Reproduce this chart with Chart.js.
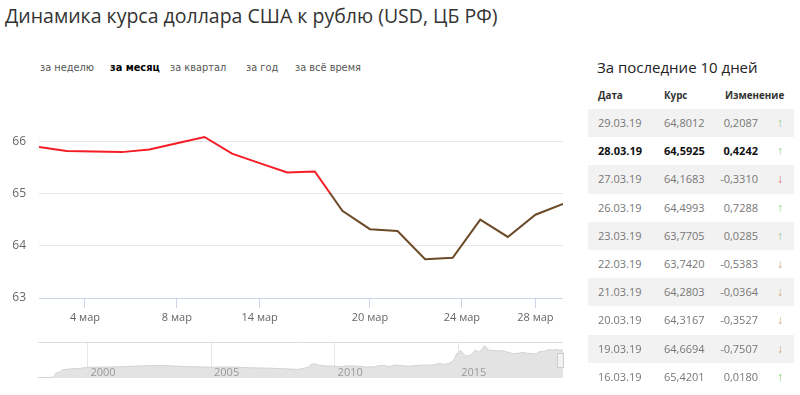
<!DOCTYPE html>
<html lang="ru">
<head>
<meta charset="utf-8">
<script src="https://cdn.jsdelivr.net/npm/chart.js@4.4.1/dist/chart.umd.min.js"></script>
<style>
  html, body { margin: 0; padding: 0; background: #fff; }
  body { width: 800px; height: 395px; position: relative; overflow: hidden; font-family: 'Open Sans', sans-serif; }
  .title { position: absolute; left: 5px; top: 2px; font-size: 19.5px; color: #333; white-space: nowrap; }
  .tabs span { position: absolute; top: 61px; font-family: 'DejaVu Sans', sans-serif; font-size: 9.8px; line-height: 14px; color: #555; white-space: nowrap; }
  .tabs span.on { font-weight: bold; color: #000; }
  canvas { position: absolute; left: 0; }
  #main { top: 115px; }
  #nav { top: 342px; }
  .handle { position: absolute; left: 557px; top: 353px; width: 5px; height: 13px; border: 1px solid #ccc; background: #f2f2f2; }
  .side h3 { position: absolute; left: 597px; top: 56px; margin: 0; font-weight: normal; font-size: 15px; line-height: 22px; color: #222; white-space: nowrap; }
  .head span { position: absolute; top: 88px; font-size: 9.8px; font-weight: bold; color: #333; line-height: 15px; }
  .row { position: absolute; left: 588px; width: 206px; height: 28.2px; font-size: 11px; color: #777; }
  .row.odd { background: #f2f2f2; }
  .row.cur { color: #111; font-weight: bold; }
  .row span { position: absolute; top: 0; line-height: 28.2px; white-space: nowrap; }
  .row .d { left: 10px; }
  .row .r { left: 76px; }
  .row .c { right: 36px; text-align: right; }
  .row .a { left: 189px; font-size: 12px; font-weight: normal; }
  .a.up { color: #86cf72; }
  .a.dn { color: #c9a46e; }
  .a.dn.first { color: #e8616b; }
</style>
</head>
<body>
<div class="title">Динамика курса доллара США к рублю (USD, ЦБ РФ)</div>
<div class="tabs">
  <span style="left:40px">за неделю</span>
  <span class="on" style="left:110px">за месяц</span>
  <span style="left:170px">за квартал</span>
  <span style="left:246px">за год</span>
  <span style="left:295px">за всё время</span>
</div>
<canvas id="main" width="563" height="215"></canvas>
<canvas id="nav" width="563" height="36"></canvas>
<div class="handle"></div>
<div class="side">
  <h3>За последние 10 дней</h3>
  <div class="head">
    <span style="left:598px">Дата</span>
    <span style="left:664px">Курс</span>
    <span style="left:725px">Изменение</span>
  </div>
  <div id="rows"></div>
</div>
<script>
// март 2019, дни торгов ЦБ
const dayNums = [1, 2, 5, 6, 7, 8, 12, 13, 14, 15, 16, 19, 20, 21, 22, 23, 26, 27, 28, 29];
const rubPerUsd = [65.89, 65.81, 65.80, 65.79, 65.84, 65.96, 66.08, 65.76, 65.58, 65.4021,
  65.4201, 64.6694, 64.3167, 64.2803, 63.7420, 63.7705, 64.4993, 64.1683, 64.5925, 64.8012];
const tickDays = [4, 8, 14, 20, 24, 28];
const tickLabels = ['4 мар', '8 мар', '14 мар', '20 мар', '24 мар', '28 мар'];
const yTicks = [63, 64, 65, 66];
const zoneValue = 65;

// навигатор, вся история
const navYears = [1998.00, 1998.60, 1998.66, 1998.72, 1998.85, 1999.00, 1999.30, 1999.70, 2000.00, 2000.50,
  2001.00, 2001.50, 2002.00, 2002.50, 2003.00, 2003.50, 2004.00, 2004.50, 2005.00, 2005.50,
  2006.00, 2006.50, 2007.00, 2007.50, 2008.00, 2008.50, 2008.80, 2008.95, 2009.10, 2009.20,
  2009.35, 2009.60, 2010.00, 2010.30, 2010.50, 2010.80, 2011.00, 2011.30, 2011.60, 2011.80,
  2012.00, 2012.20, 2012.45, 2012.70, 2013.00, 2013.50, 2013.80, 2014.00, 2014.20, 2014.45,
  2014.60, 2014.75, 2014.85, 2014.95, 2015.00, 2015.08, 2015.20, 2015.32, 2015.45, 2015.55,
  2015.68, 2015.78, 2015.85, 2015.95, 2016.05, 2016.15, 2016.22, 2016.40, 2016.60, 2016.80,
  2017.00, 2017.20, 2017.45, 2017.60, 2017.80, 2018.00, 2018.15, 2018.30, 2018.50, 2018.65,
  2018.80, 2018.95, 2019.10, 2019.24];
const navRates = [6.0, 6.3, 8.0, 15.5, 17.0, 22.6, 24.5, 25.5, 28.0, 28.2,
  28.6, 29.3, 30.5, 31.4, 31.8, 30.7, 29.3, 29.0, 28.0, 28.6,
  28.3, 27.0, 26.5, 25.8, 24.6, 23.5, 26.0, 29.0, 35.0, 35.5,
  32.5, 31.0, 30.0, 29.4, 31.0, 30.8, 30.2, 28.3, 28.8, 31.5,
  32.0, 29.3, 33.0, 31.5, 30.3, 32.5, 32.5, 33.0, 35.8, 34.2,
  36.0, 39.5, 46.0, 58.0, 56.0, 64.5, 58.0, 51.5, 53.0, 56.0,
  64.5, 63.0, 60.0, 66.0, 74.0, 70.0, 65.0, 64.0, 63.0, 63.5,
  60.5, 57.0, 58.0, 59.5, 58.0, 57.0, 56.5, 61.5, 62.5, 65.5,
  65.0, 66.0, 65.0, 64.8];
const navTickYears = [2000, 2005, 2010, 2015];

// таблица
const tableDates = ['29.03.19', '28.03.19', '27.03.19', '26.03.19', '23.03.19', '22.03.19', '21.03.19', '20.03.19', '19.03.19', '16.03.19'];
const tableRates = ['64,8012', '64,5925', '64,1683', '64,4993', '63,7705', '63,7420', '64,2803', '64,3167', '64,6694', '65,4201'];
const tableChanges = ['0,2087', '0,4242', '-0,3310', '0,7288', '0,0285', '-0,5383', '-0,0364', '-0,3527', '-0,7507', '0,0180'];
const currentRow = 1;

const RED = '#f51c25';
const BROWN = '#6d4a27';

function ordinalPos(d) {
  for (let i = 0; i < dayNums.length - 1; i++) {
    if (d >= dayNums[i] && d <= dayNums[i + 1]) {
      return i + (d - dayNums[i]) / (dayNums[i + 1] - dayNums[i]);
    }
  }
  return d < dayNums[0] ? 0 : dayNums.length - 1;
}

function zoneColor(ctx) {
  const chart = ctx.chart;
  const area = chart.chartArea;
  if (!area) return RED;
  const yPix = chart.scales.y.getPixelForValue(zoneValue);
  let f = (yPix - area.top) / (area.bottom - area.top);
  f = Math.min(1, Math.max(0, f));
  const g = chart.ctx.createLinearGradient(0, area.top, 0, area.bottom);
  g.addColorStop(0, RED);
  g.addColorStop(f, RED);
  g.addColorStop(f, BROWN);
  g.addColorStop(1, BROWN);
  return g;
}

new Chart(document.getElementById('main'), {
  type: 'line',
  data: {
    datasets: [{
      data: rubPerUsd.map((v, i) => ({ x: i, y: v })),
      borderColor: zoneColor,
      borderWidth: 2,
      pointRadius: 0,
      tension: 0,
      fill: false
    }]
  },
  options: {
    responsive: false,
    animation: false,
    layout: { padding: 0 },
    plugins: { legend: { display: false }, tooltip: { enabled: false } },
    scales: {
      x: {
        type: 'linear',
        min: 0,
        max: dayNums.length - 1,
        afterBuildTicks: s => { s.ticks = tickDays.map(d => ({ value: ordinalPos(d) })); },
        afterFit: s => { s.height = 32; s.paddingLeft = 0; s.paddingRight = 0; },
        grid: { drawOnChartArea: false, drawTicks: true, tickLength: 10, color: '#ccd6eb' },
        border: { display: true, color: '#ccd6eb' },
        ticks: {
          autoSkip: false, maxRotation: 0, padding: 3, color: '#666',
          font: { family: 'Open Sans', size: 11 },
          callback: (v, i) => tickLabels[i]
        }
      },
      y: {
        min: 63,
        max: 66.5,
        afterBuildTicks: s => { s.ticks = yTicks.map(v => ({ value: v })); },
        afterFit: s => { s.width = 39; s.paddingTop = 0; s.paddingBottom = 0; },
        grid: { color: '#e6e6e6', drawTicks: false },
        border: { display: false },
        ticks: { padding: 13, color: '#666', font: { family: 'Open Sans', size: 12 } }
      }
    }
  }
});

new Chart(document.getElementById('nav'), {
  type: 'line',
  data: {
    datasets: [{
      data: navRates.map((v, i) => ({ x: navYears[i], y: v })),
      borderColor: '#d3d3d3',
      borderWidth: 1,
      backgroundColor: '#e3e3e3',
      fill: 'start',
      pointRadius: 0,
      tension: 0
    }]
  },
  options: {
    responsive: false,
    animation: false,
    layout: { padding: { left: 38 } },
    plugins: { legend: { display: false }, tooltip: { enabled: false } },
    scales: {
      x: {
        type: 'linear',
        min: 1998,
        max: 2019.24,
        afterBuildTicks: s => { s.ticks = navTickYears.map(v => ({ value: v })); },
        afterFit: s => { s.height = 0; s.paddingLeft = 0; s.paddingRight = 0; },
        grid: { color: '#e6e6e6', drawTicks: false },
        border: { display: false },
        ticks: {
          mirror: true, z: 1, padding: -1, align: 'start', labelOffset: 3,
          autoSkip: false, maxRotation: 0, color: '#999',
          font: { family: 'Open Sans', size: 11 },
          callback: v => String(v)
        }
      },
      y: {
        min: 5,
        max: 82,
        afterBuildTicks: s => { s.ticks = [{ value: 82 }]; },
        afterFit: s => { s.width = 0; s.paddingTop = 0; s.paddingBottom = 0; },
        grid: { color: '#dcdcdc', drawTicks: false },
        border: { display: false },
        ticks: { display: false }
      }
    }
  }
});

const rowsBox = document.getElementById('rows');
let firstDown = true;
tableDates.forEach((d, i) => {
  const row = document.createElement('div');
  row.className = 'row' + (i % 2 === 0 ? ' odd' : '') + (i === currentRow ? ' cur' : '');
  row.style.top = (109 + i * 28.2) + 'px';
  const up = tableChanges[i].charAt(0) !== '-';
  let arrowCls = up ? 'a up' : 'a dn';
  if (!up && firstDown) { arrowCls += ' first'; firstDown = false; }
  row.innerHTML = '<span class="d">' + d + '</span><span class="r">' + tableRates[i] +
    '</span><span class="c">' + tableChanges[i] + '</span><span class="' + arrowCls + '">' + (up ? '↑' : '↓') + '</span>';
  rowsBox.appendChild(row);
});
</script>
</body>
</html>
